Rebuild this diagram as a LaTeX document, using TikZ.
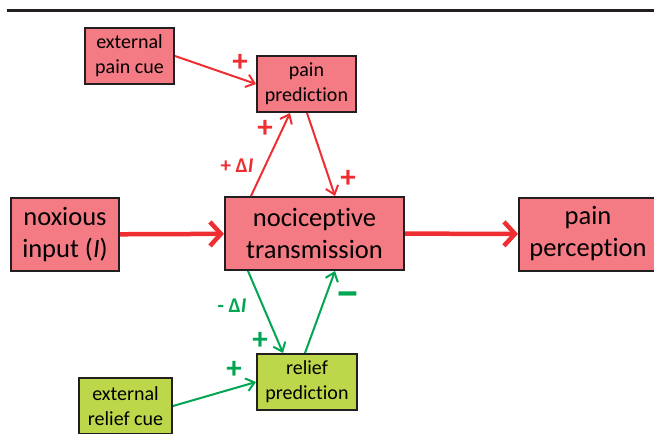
\documentclass[tikz,border=0pt]{standalone}
\usepackage{fontspec}
\setmainfont{Carlito}[Ligatures={NoCommon}]
\usepackage{xcolor}
\usetikzlibrary{arrows.meta}
\definecolor{painfill}{HTML}{F47A84}
\definecolor{relieffill}{HTML}{BCD84A}
\definecolor{painline}{HTML}{EE2E31}
\definecolor{reliefline}{HTML}{00A651}
\definecolor{boxline}{HTML}{231F20}

\begin{document}
\begin{tikzpicture}[x=1pt, y=-1pt,
    smallbox/.style={draw=boxline, line width=2pt, align=center, minimum height=56pt, inner sep=0pt, font=\fontsize{20}{25}\selectfont},
    bigbox/.style={draw=boxline, line width=2pt, align=center, minimum height=73pt, inner sep=0pt, fill=painfill, font=\fontsize{26.5}{32}\selectfont},
    thinarrow/.style={line width=2pt, -{Straight Barb[length=8pt, width=13pt]}},
    thickarrow/.style={line width=4.5pt, -{Straight Barb[length=11pt, width=24pt]}},
    sign/.style={inner sep=0pt, font=\fontsize{31}{31}\selectfont\bfseries},
    delta/.style={inner sep=0pt, font=\fontsize{21}{21}\selectfont\bfseries}]
    \clip (0,0) rectangle (654,434);

    \draw[boxline, line width=3pt] (7,10.5) -- (660,10.5);

    \node[smallbox, fill=painfill, minimum width=89pt] (extpain) at (129.5,56) {external\\pain cue};
    \node[smallbox, fill=painfill, minimum width=99pt] (painpred) at (306.5,84) {pain\\prediction};
    \node[bigbox, minimum width=108pt] (noxious) at (65,234.5) {noxious\\input (\textit{I})};
    \node[bigbox, minimum width=179pt] (noci) at (314.5,233.5) {nociceptive\\transmission};
    \node[bigbox, minimum width=138pt] (painperc) at (588,234) {pain\\perception};
    \node[smallbox, fill=relieffill, minimum width=100pt] (reliefpred) at (307,382) {relief\\prediction};
    \node[smallbox, fill=relieffill, minimum width=93pt] (extrelief) at (125.5,406) {external\\relief cue};

    \draw[thickarrow, painline] (noxious) -- (noci);
    \draw[thickarrow, painline] (noci) -- (painperc);

    \draw[thinarrow, painline] (extpain.east) -- (painpred.west);
    \draw[thinarrow, painline] ([xshift=27pt]noci.north west) -- ([xshift=34pt]painpred.south west);
    \draw[thinarrow, painline] ([xshift=51pt]painpred.south west) -- ([xshift=111pt]noci.north west);
    \draw[thinarrow, reliefline] ([xshift=24pt]noci.south west) -- ([xshift=27pt]reliefpred.north west);
    \draw[thinarrow, reliefline] ([xshift=49pt]reliefpred.north west) -- ([xshift=111pt]noci.south west);
    \draw[thinarrow, reliefline] (extrelief.east) -- (reliefpred.west);

    \node[sign, painline] (plusext) at (240,63) {+};
    \node[sign, painline] (plusup) at (265,129) {+};
    \node[delta, painline] (deltaup) at (237,166) {+ Δ\textit{I}};
    \node[sign, painline] (plusdown) at (348,179) {+};
    \node[delta, reliefline] (deltadown) at (232,306) {- Δ\textit{I}};
    \node[sign, reliefline, font=\fontsize{46}{46}\selectfont\bfseries] (minusup) at (348,300) {−};
    \node[sign, reliefline] (plusrelief) at (260,341) {+};
    \node[sign, reliefline] (plusextrelief) at (234,370) {+};
\end{tikzpicture}
\end{document}
